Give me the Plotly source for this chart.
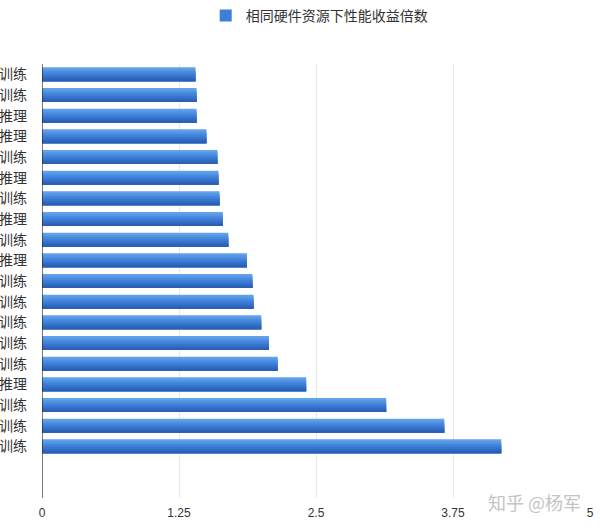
import plotly.graph_objects as go

labels = ["训练", "训练", "推理", "推理", "训练", "推理", "训练", "推理", "训练", "推理",
          "训练", "训练", "训练", "训练", "训练", "推理", "训练", "训练", "训练"]
values = [1.40, 1.41, 1.41, 1.50, 1.60, 1.61, 1.62, 1.65, 1.70, 1.87,
          1.92, 1.93, 2.00, 2.07, 2.15, 2.41, 3.14, 3.67, 4.19]
series_name = "相同硬件资源下性能收益倍数"
x_ticks = [0, 1.25, 2.5, 3.75, 5]
x_tick_text = ["0", "1.25", "2.5", "3.75", "5"]

positions = list(range(len(values)))

fig = go.Figure()
bar_w = 0.68
# gradient bands (top light -> bottom dark); each band runs to the bar bottom
bands = ["#62a2ea", "#5596e5", "#498adf", "#3f7fd7", "#3674cd", "#2f69c1", "#2a5fb3"]
n = len(bands)
bw = bar_w / n
for i, c in enumerate(bands):
    start = -bar_w / 2 + i * bw
    fig.add_trace(go.Bar(
        x=values, y=positions, orientation="h",
        width=bar_w / 2 - start, offset=start,
        marker=dict(color=c, line=dict(width=0)),
        name=series_name, showlegend=(i == 3), hoverinfo="x",
    ))

fig.update_layout(
    width=600, height=529,
    margin=dict(l=42, r=10, t=64, b=31, autoexpand=False),
    paper_bgcolor="white", plot_bgcolor="white",
    barmode="overlay",
    font=dict(family="Noto Sans CJK SC", size=13, color="#333333"),
    legend=dict(orientation="h", xref="container", yref="container",
                x=0.532, y=1.0, xanchor="center", yanchor="top",
                font=dict(size=14, color="#333333")),
    showlegend=True,
)
fig.update_xaxes(
    range=[0, 5], tickvals=x_ticks, ticktext=x_tick_text,
    showgrid=True, gridcolor="#e8e8e8", gridwidth=1,
    zeroline=False, showline=False, ticks="",
    automargin=False, ticklabelstandoff=6,
    tickfont=dict(family="Liberation Sans", size=12, color="#333333"),
)
fig.update_yaxes(
    range=[20.5, -0.5], tickmode="array", tickvals=positions, ticktext=labels,
    showgrid=False, zeroline=False, showline=False, ticks="",
    automargin=False, ticklabelstandoff=14,
    tickfont=dict(size=14, color="#333333"),
)
fig.add_shape(type="line", xref="x", yref="paper", x0=0, x1=0, y0=0, y1=1,
              line=dict(color="#222222", width=1.2))
fig.add_annotation(text="知乎 @杨军", xref="paper", yref="paper", x=0.988, y=-0.009,
                   xanchor="right", yanchor="middle", showarrow=False,
                   font=dict(size=18, color="#c4c4c4"))

fig.write_html("out.html", config={"displayModeBar": False},
               post_script="document.body.style.margin='0';")
